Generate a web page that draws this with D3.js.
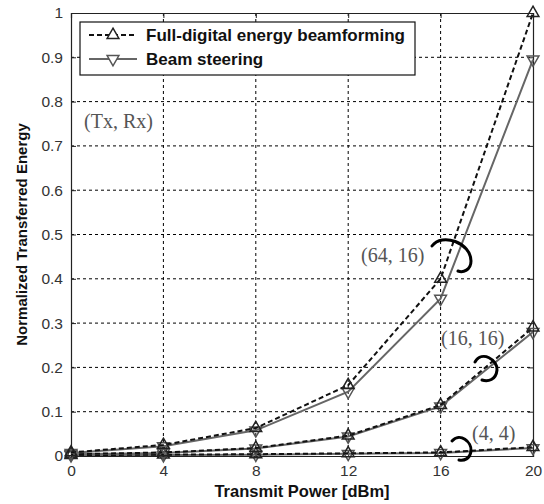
<!DOCTYPE html>
<html>
<head>
<meta charset="utf-8">
<script src="https://cdn.jsdelivr.net/npm/d3@7"></script>
<style>
  body { margin: 0; background: #fff; }
</style>
</head>
<body>
<svg width="544" height="504" font-family="'Liberation Sans', Arial, sans-serif"></svg>
<script>
// data
var power = [0, 4, 8, 12, 16, 20];
var yTicks = [0, 0.1, 0.2, 0.3, 0.4, 0.5, 0.6, 0.7, 0.8, 0.9, 1];
var fullDigital64 = [0.008, 0.025, 0.063, 0.16, 0.40, 1.0];
var steering64 = [0.007, 0.022, 0.058, 0.145, 0.355, 0.895];
var fullDigital16 = [0.004, 0.008, 0.018, 0.046, 0.115, 0.29];
var steering16 = [0.004, 0.007, 0.017, 0.044, 0.112, 0.28];
var fullDigital4 = [0.002, 0.003, 0.004, 0.006, 0.008, 0.02];
var steering4 = [0.002, 0.002, 0.003, 0.005, 0.007, 0.018];
var legendNames = ['Full-digital energy beamforming', 'Beam steering'];

var svg = d3.select('svg');
// plot box (note: "top" clashes with window.top, so pad* names)
var padL = 71, padR = 533, padT = 13, padB = 456;

var x = d3.scaleLinear().domain([0, 20]).range([padL, padR]);
var y = d3.scaleLinear().domain([0, 1]).range([padB, padT]);

// grid
svg.append('g').selectAll('line').data(power.slice(1, -1)).enter().append('line')
  .attr('x1', function(d) { return x(d); }).attr('x2', function(d) { return x(d); })
  .attr('y1', padT).attr('y2', padB)
  .attr('stroke', '#000').attr('stroke-width', 1).attr('stroke-dasharray', '3,3');
svg.append('g').selectAll('line').data(yTicks.slice(1, -1)).enter().append('line')
  .attr('y1', function(d) { return y(d); }).attr('y2', function(d) { return y(d); })
  .attr('x1', padL).attr('x2', padR)
  .attr('stroke', '#000').attr('stroke-width', 1).attr('stroke-dasharray', '3,3');

// axes (matlab-ish, ticks inward)
svg.append('g').attr('transform', 'translate(0,' + padB + ')')
  .call(d3.axisBottom(x).tickValues(power).tickSize(-5).tickPadding(9).tickFormat(d3.format('d')));
svg.append('g').attr('transform', 'translate(' + padL + ',0)')
  .call(d3.axisLeft(y).tickValues(yTicks).tickSize(-5).tickPadding(8)
    .tickFormat(function(d) { return d === 0 || d === 1 ? d : d3.format('.1f')(d); }));
svg.append('g').attr('transform', 'translate(0,' + padT + ')')
  .call(d3.axisTop(x).tickValues(power).tickSize(-5).tickFormat(''));
svg.append('g').attr('transform', 'translate(' + padR + ',0)')
  .call(d3.axisRight(y).tickValues(yTicks).tickSize(-5).tickFormat(''));
svg.selectAll('.domain').attr('stroke', '#222').attr('stroke-width', 1.2);
svg.selectAll('.tick line').attr('stroke', '#222');
svg.selectAll('.tick text').attr('font-size', 15.5).attr('fill', '#333')
  .attr('font-family', '"Liberation Sans", Arial, sans-serif');

// series
var tri = d3.symbol().type(d3.symbolTriangle).size(60);
function drawSeries(vals, dashed) {
  var line = d3.line().x(function(d, i) { return x(power[i]); }).y(function(d) { return y(d); });
  var col = dashed ? '#111' : '#666';
  svg.append('path').datum(vals).attr('d', line)
    .attr('fill', 'none').attr('stroke', col).attr('stroke-width', 2)
    .attr('stroke-dasharray', dashed ? '5,3' : null);
  svg.append('g').selectAll('path').data(vals).enter().append('path')
    .attr('d', tri)
    .attr('transform', function(d, i) {
      return 'translate(' + x(power[i]) + ',' + y(d) + ')' + (dashed ? '' : ' rotate(180)');
    })
    .attr('fill', 'none').attr('stroke', dashed ? '#222' : '#555').attr('stroke-width', 1.5);
}
drawSeries(steering4, false);
drawSeries(fullDigital4, true);
drawSeries(steering16, false);
drawSeries(fullDigital16, true);
drawSeries(steering64, false);
drawSeries(fullDigital64, true);

// annotations
var notes = [
  { t: '(Tx, Rx)', x: 84, y: 128 },
  { t: '(64, 16)', x: 361, y: 262 },
  { t: '(16, 16)', x: 441, y: 345 },
  { t: '(4, 4)', x: 472, y: 440 }
];
svg.append('g').selectAll('text').data(notes).enter().append('text')
  .attr('x', function(d) { return d.x; }).attr('y', function(d) { return d.y; })
  .attr('font-family', '"Liberation Serif", "Times New Roman", serif')
  .attr('font-size', 20).attr('fill', '#555')
  .text(function(d) { return d.t; });

var arcs = [
  'M 432 246 C 442 232, 471 243, 471 261 C 471 270, 463 273, 458 271',
  'M 475 362 C 482 350, 498 360, 497 370 C 496 380, 488 382, 482 380',
  'M 452 441 C 460 432, 472 442, 471 451 C 470 459, 464 461, 459 460'
];
svg.append('g').selectAll('path').data(arcs).enter().append('path')
  .attr('d', function(d) { return d; })
  .attr('fill', 'none').attr('stroke', '#000').attr('stroke-width', 3).attr('stroke-linecap', 'round');

// legend
var lg = svg.append('g');
lg.append('rect').attr('x', 80).attr('y', 22).attr('width', 335).attr('height', 53)
  .attr('fill', '#fff').attr('stroke', '#111').attr('stroke-width', 1.2);
legendNames.forEach(function(name, i) {
  var ly = 35 + i * 24;
  var dashed = i === 0;
  lg.append('line').attr('x1', 89).attr('x2', 137).attr('y1', ly).attr('y2', ly)
    .attr('stroke', dashed ? '#111' : '#666').attr('stroke-width', 2)
    .attr('stroke-dasharray', dashed ? '5,3' : null);
  lg.append('path').attr('d', tri)
    .attr('transform', 'translate(113,' + ly + ')' + (dashed ? '' : ' rotate(180)'))
    .attr('fill', '#fff').attr('stroke', dashed ? '#222' : '#555').attr('stroke-width', 1.5);
  lg.append('text').attr('x', 146).attr('y', ly + 6)
    .attr('font-size', 17).attr('font-weight', 'bold').attr('fill', '#111')
    .attr('textLength', i === 0 ? 259 : null)
    .text(name);
});

// axis titles
svg.append('text').attr('x', (padL + padR) / 2).attr('y', 497)
  .attr('text-anchor', 'middle').attr('font-size', 16.5).attr('font-weight', 'bold').attr('fill', '#111')
  .text('Transmit Power [dBm]');
svg.append('text').attr('transform', 'translate(27,' + (padT + padB) / 2 + ') rotate(-90)')
  .attr('text-anchor', 'middle').attr('font-size', 15).attr('font-weight', 'bold').attr('fill', '#111')
  .text('Normalized Transferred Energy');
</script>
</body>
</html>
